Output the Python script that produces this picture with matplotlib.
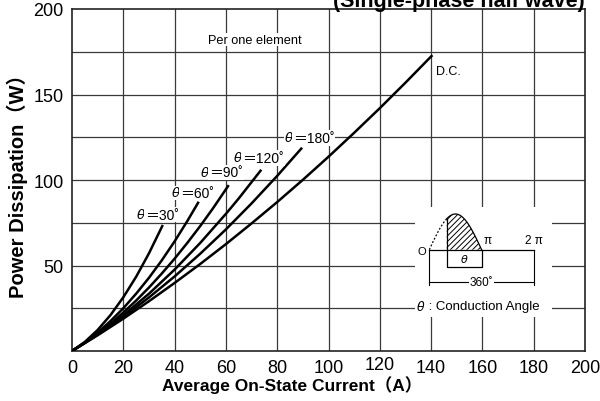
import numpy as np
import matplotlib
matplotlib.use("Agg")
import matplotlib.pyplot as plt
import matplotlib.transforms as mtransforms

plt.rcParams['font.family'] = ['Liberation Sans', 'Noto Sans CJK JP', 'DejaVu Sans']
plt.rcParams['hatch.linewidth'] = 0.7

# ---------------- data ----------------
i_30 = [0, 5, 10, 15, 20, 25, 30, 35.4]
p_30 = [0, 5.3, 12.3, 21.0, 31.4, 43.4, 57.1, 73.7]
i_60 = [0, 5, 10, 15, 20, 25, 30, 35, 40, 45, 49.4]
p_60 = [0, 4.9, 10.8, 17.5, 25.0, 33.5, 42.8, 53.0, 64.1, 76.1, 87.3]
i_90 = [0, 5, 10, 15, 20, 25, 30, 35, 40, 45, 50, 55, 61.1]
p_90 = [0, 4.8, 10.1, 16.0, 22.5, 29.5, 37.1, 45.3, 54.0, 63.3, 73.1, 83.5, 97.0]
i_120 = [0, 10, 20, 30, 40, 50, 60, 65, 73.8]
p_120 = [0, 9.7, 20.9, 33.5, 47.6, 63.2, 80.2, 89.2, 106.0]
i_180 = [0, 10, 20, 30, 40, 50, 60, 70, 80, 89.7]
p_180 = [0, 9.5, 19.9, 31.3, 43.6, 56.9, 71.1, 86.3, 102.4, 118.9]
i_dc = [0, 10, 20, 30, 40, 50, 60, 70, 80, 90, 100, 110, 120, 130, 140.5]
p_dc = [0, 9.2, 18.9, 29.1, 39.8, 50.9, 62.5, 74.6, 87.1, 100.1, 113.6, 127.6, 142.0, 156.9, 173.0]

angle_labels = ["＝30˚", "＝60˚", "＝90˚", "＝120˚", "＝180˚"]
label_anchor = [(28.3, 79.7), (42.1, 92.4), (53.4, 104.5), (66.3, 112.9), (86.2, 124.6)]

x_ticks = [0, 20, 40, 60, 80, 100, 120, 140, 160, 180, 200]
y_ticks = [50, 100, 150, 200]
y_grid = [25, 50, 75, 100, 125, 150, 175]

THETA_FONT = dict(family='DejaVu Sans', style='oblique')

fig = plt.figure(figsize=(6.0, 4.02), dpi=100)
ax = fig.add_axes([72/600, 1-352/402, (585-72)/600, (352-10)/402])
ax.set_xlim(0, 200)
ax.set_ylim(0, 200)

grid_col = '#3a3a3a'
for gx in x_ticks[1:-1]:
    ax.axvline(gx, color=grid_col, lw=0.9, zorder=1)
for gy in y_grid:
    ax.axhline(gy, color=grid_col, lw=0.9, zorder=1)

for s in ax.spines.values():
    s.set_linewidth(1.2)
    s.set_color('#222222')

ax.set_xticks(x_ticks)
ax.set_yticks(y_ticks)
ax.tick_params(length=0, pad=6)
ax.set_xticklabels([str(v) for v in x_ticks], fontsize=13)
ax.set_yticklabels([str(v) for v in y_ticks], fontsize=13)
# the "120" label sits a little higher in the reference
lab120 = ax.get_xticklabels()[6]
lab120.set_transform(lab120.get_transform() +
                     mtransforms.ScaledTranslation(0, 3/100, fig.dpi_scale_trans))

series = [(i_30, p_30), (i_60, p_60), (i_90, p_90), (i_120, p_120), (i_180, p_180), (i_dc, p_dc)]
for xs, ys in series:
    ax.plot(xs, ys, color='black', lw=1.8, zorder=3, solid_capstyle='butt')

bb = dict(facecolor='white', edgecolor='none', pad=0.5)
for txt, (lx, ly) in zip(angle_labels, label_anchor):
    ax.text(lx, ly, "θ", fontsize=9.5, ha='right', va='center', bbox=bb, zorder=4,
            **THETA_FONT)
    ax.text(lx, ly, txt, fontsize=10, ha='left', va='center', bbox=bb, zorder=4,
            family=['Liberation Sans', 'Noto Sans CJK JP'])

ax.text(71.3, 182, "Per one element", fontsize=9.2, ha='center', va='center', bbox=bb, zorder=4)
ax.text(142, 163.7, "D.C.", fontsize=9, ha='left', va='center', zorder=4)

# axis labels
fig.text(292/600, 1-385/402, "Average On-State Current（A）", fontsize=12.5, fontweight='bold',
         ha='center', va='center', family=['Liberation Sans', 'Noto Sans CJK JP'])
fig.text(17/600, 1-181/402, "Power Dissipation（W）", fontsize=14.5, fontweight='bold',
         ha='center', va='center', rotation=90, family=['Liberation Sans', 'Noto Sans CJK JP'])
fig.text(585/600, 1-7/402, "(Single-phase half wave)", fontsize=15.5, fontweight='bold',
         ha='right', va='baseline')

# ---------------- inset diagram ----------------
ins = fig.add_axes([415/600, 1-318/402, (552-415)/600, (318-208)/402])
ins.set_facecolor('white')
ins.set_xlim(-0.859, 7.37)
ins.set_ylim(-1.885, 1.196)
for s in ins.spines.values():
    s.set_visible(False)
ins.set_xticks([])
ins.set_yticks([])
ins.set_zorder(5)

alpha = np.pi / 3
t_dot = np.linspace(0, alpha, 30)
t_sol = np.linspace(alpha, np.pi, 60)
ins.plot(t_dot, np.sin(t_dot), color='black', lw=0.9, ls=(0, (1.5, 1.5)))
ins.plot(t_sol, np.sin(t_sol), color='black', lw=0.9)
ins.fill_between(t_sol, 0, np.sin(t_sol), facecolor='white', edgecolor='black',
                 hatch='//////', linewidth=0)
ins.plot([alpha, alpha], [np.sin(alpha), 0], color='black', lw=0.9)
ins.plot([0, 2*np.pi], [0, 0], color='black', lw=0.9)
ins.plot([alpha, alpha, np.pi, np.pi], [0, -0.49, -0.49, 0], color='black', lw=0.9)
ins.text((alpha+np.pi)/2, -0.26, "θ", fontsize=8, ha='center', va='center', **THETA_FONT)
ins.text(np.pi+0.12, 0.1, "π", fontsize=8.5, ha='left', va='bottom')
ins.text(2*np.pi, 0.1, "2 π", fontsize=8.5, ha='center', va='bottom')
ins.text(-0.46, -0.05, "O", fontsize=8, ha='center', va='center')
ins.plot([0, 0], [0, -1.0], color='black', lw=0.8)
ins.plot([2*np.pi, 2*np.pi], [0, -1.0], color='black', lw=0.8)
ins.plot([0, 2*np.pi], [-0.896, -0.896], color='black', lw=0.8)
ins.text(np.pi, -0.896, "360˚", fontsize=8.5, ha='center', va='center',
         bbox=dict(facecolor='white', edgecolor='none', pad=0.3))
ins.text(-0.28, -1.585, "θ", fontsize=9, ha='right', va='center', **THETA_FONT)
ins.text(-0.28, -1.585, " : Conduction Angle", fontsize=9.5, ha='left', va='center')

fig.savefig("out.png", dpi=100)
